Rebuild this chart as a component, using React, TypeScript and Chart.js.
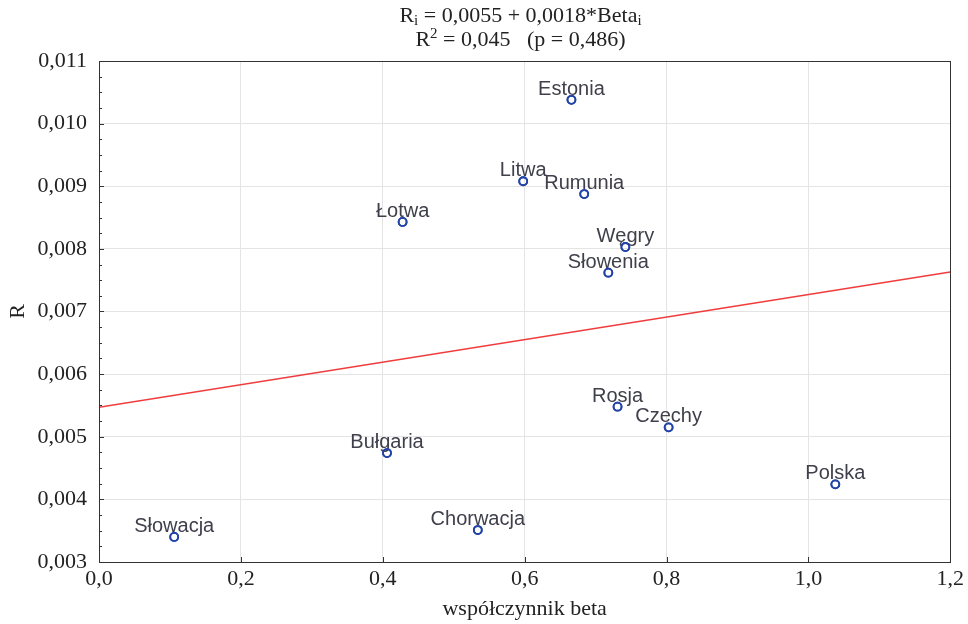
import React, { useEffect, useRef } from "react";
import { Chart, registerables } from "chart.js";

Chart.register(...registerables);

const countries = [
  "Estonia", "Litwa", "Rumunia", "Łotwa", "Węgry", "Słowenia",
  "Bułgaria", "Słowacja", "Chorwacja", "Rosja", "Czechy", "Polska",
];
const betaValues = [0.666, 0.598, 0.684, 0.428, 0.742, 0.718, 0.406, 0.106, 0.534, 0.731, 0.803, 1.038];
const rValues = [0.01038, 0.00908, 0.008875, 0.00843, 0.00803, 0.00762, 0.00474, 0.0034, 0.00351, 0.00548, 0.00515, 0.00424];

const fitBeta = [0, 1.2];
const fitR = [0.00547, 0.00763];

const xAxisTitle = "współczynnik beta";
const yAxisTitle = "R";

const frameAndLabels = {
  id: "frameAndLabels",
  afterDatasetsDraw(chart: any) {
    const { ctx, chartArea } = chart;
    const xs = chart.scales.x;
    const ys = chart.scales.y;
    ctx.save();
    ctx.font = '20px "Liberation Sans", Arial, sans-serif';
    ctx.fillStyle = "#40404c";
    ctx.textAlign = "center";
    ctx.textBaseline = "alphabetic";
    countries.forEach((name, i) => {
      const px = xs.getPixelForValue(betaValues[i]);
      const py = ys.getPixelForValue(rValues[i]);
      ctx.fillText(name, px, py - 5);
    });
    const meta = chart.getDatasetMeta(0);
    meta.data.forEach((el: any) => {
      ctx.beginPath();
      ctx.arc(el.x, el.y, 4, 0, Math.PI * 2);
      ctx.lineWidth = 1.8;
      ctx.strokeStyle = "#2244a8";
      ctx.stroke();
    });
    ctx.strokeStyle = "#333333";
    ctx.lineWidth = 1;
    ctx.strokeRect(
      Math.round(chartArea.left) + 0.5,
      Math.round(chartArea.top) + 0.5,
      Math.round(chartArea.right - chartArea.left),
      Math.round(chartArea.bottom - chartArea.top)
    );
    ctx.beginPath();
    for (let v = 0.003; v <= 0.011 + 1e-9; v += 0.00025) {
      const y = Math.round(ys.getPixelForValue(v)) + 0.5;
      const major = Math.abs(v * 1000 - Math.round(v * 1000)) < 1e-6;
      const len = major ? 5 : 3;
      ctx.moveTo(chartArea.left, y);
      ctx.lineTo(chartArea.left + len, y);
    }
    for (let v = 0; v <= 1.2 + 1e-9; v += 0.2) {
      const x = Math.round(xs.getPixelForValue(v)) + 0.5;
      ctx.moveTo(x, chartArea.bottom);
      ctx.lineTo(x, chartArea.bottom - 5);
    }
    ctx.stroke();
    ctx.restore();
  },
};

export default function App() {
  const canvasRef = useRef<HTMLCanvasElement | null>(null);

  useEffect(() => {
    if (!canvasRef.current) return;
    const serif = { family: '"Liberation Serif", "Times New Roman", serif', size: 22 };
    const chart = new Chart(canvasRef.current, {
      type: "scatter",
      data: {
        datasets: [
          {
            label: "kraje",
            data: betaValues.map((b, i) => ({ x: b, y: rValues[i] })),
            pointRadius: 4,
            pointBorderWidth: 1.8,
            pointBorderColor: "#2244a8",
            pointBackgroundColor: "rgba(255,255,255,0)",
            showLine: false,
          },
          {
            type: "line",
            label: "regresja",
            data: fitBeta.map((b, i) => ({ x: b, y: fitR[i] })),
            borderColor: "#f03c3c",
            borderWidth: 1.5,
            pointRadius: 0,
            fill: false,
          } as any,
        ],
      },
      options: {
        responsive: false,
        animation: false,
        layout: { padding: { top: 61, right: 16, left: 0, bottom: 0 } },
        plugins: { legend: { display: false }, tooltip: { enabled: false }, title: { display: false } },
        scales: {
          x: {
            type: "linear",
            min: 0,
            max: 1.2,
            afterFit: (s: any) => { s.height = 62; },
            ticks: {
              stepSize: 0.2,
              color: "#222",
              font: serif,
              padding: 4,
              maxRotation: 0,
              callback: (v: any) => Number(v).toFixed(1).replace(".", ","),
            },
            grid: { color: "#e4e4e4", drawTicks: false },
            border: { display: false },
            title: { display: true, text: xAxisTitle, color: "#222", font: serif, padding: { top: 0, bottom: 2 } },
          },
          y: {
            type: "linear",
            min: 0.003,
            max: 0.011,
            afterFit: (s: any) => { s.width = 99; },
            ticks: {
              stepSize: 0.001,
              color: "#222",
              font: serif,
              padding: 12,
              callback: (v: any) => Number(v).toFixed(3).replace(".", ","),
            },
            grid: { color: "#e4e4e4", drawTicks: false },
            border: { display: false },
            title: { display: true, text: yAxisTitle, color: "#222", font: serif, padding: { top: 5, bottom: 0 } },
          },
        },
      },
      plugins: [frameAndLabels],
    });
    return () => chart.destroy();
  }, []);

  const subStyle = { fontSize: 15, verticalAlign: "-3px", lineHeight: 0 };
  return (
    <div style={{ position: "fixed", left: 0, top: 0, width: 968, height: 624, background: "#fff" }}>
      <canvas ref={canvasRef} width={968} height={624} style={{ display: "block" }} />
      <div
        style={{
          position: "absolute",
          top: 3,
          left: 99,
          width: 843,
          textAlign: "center",
          fontFamily: '"Liberation Serif", "Times New Roman", serif',
          fontSize: 22,
          lineHeight: "24px",
          color: "#222",
        }}
      >
        <div>
          R<sub style={subStyle}>i</sub> = 0,0055 + 0,0018*Beta<sub style={subStyle}>i</sub>
        </div>
        <div>
          R<sup style={{ fontSize: 15, verticalAlign: "8px", lineHeight: 0 }}>2</sup> = 0,045&nbsp;&nbsp;&nbsp;(p = 0,486)
        </div>
      </div>
    </div>
  );
}
